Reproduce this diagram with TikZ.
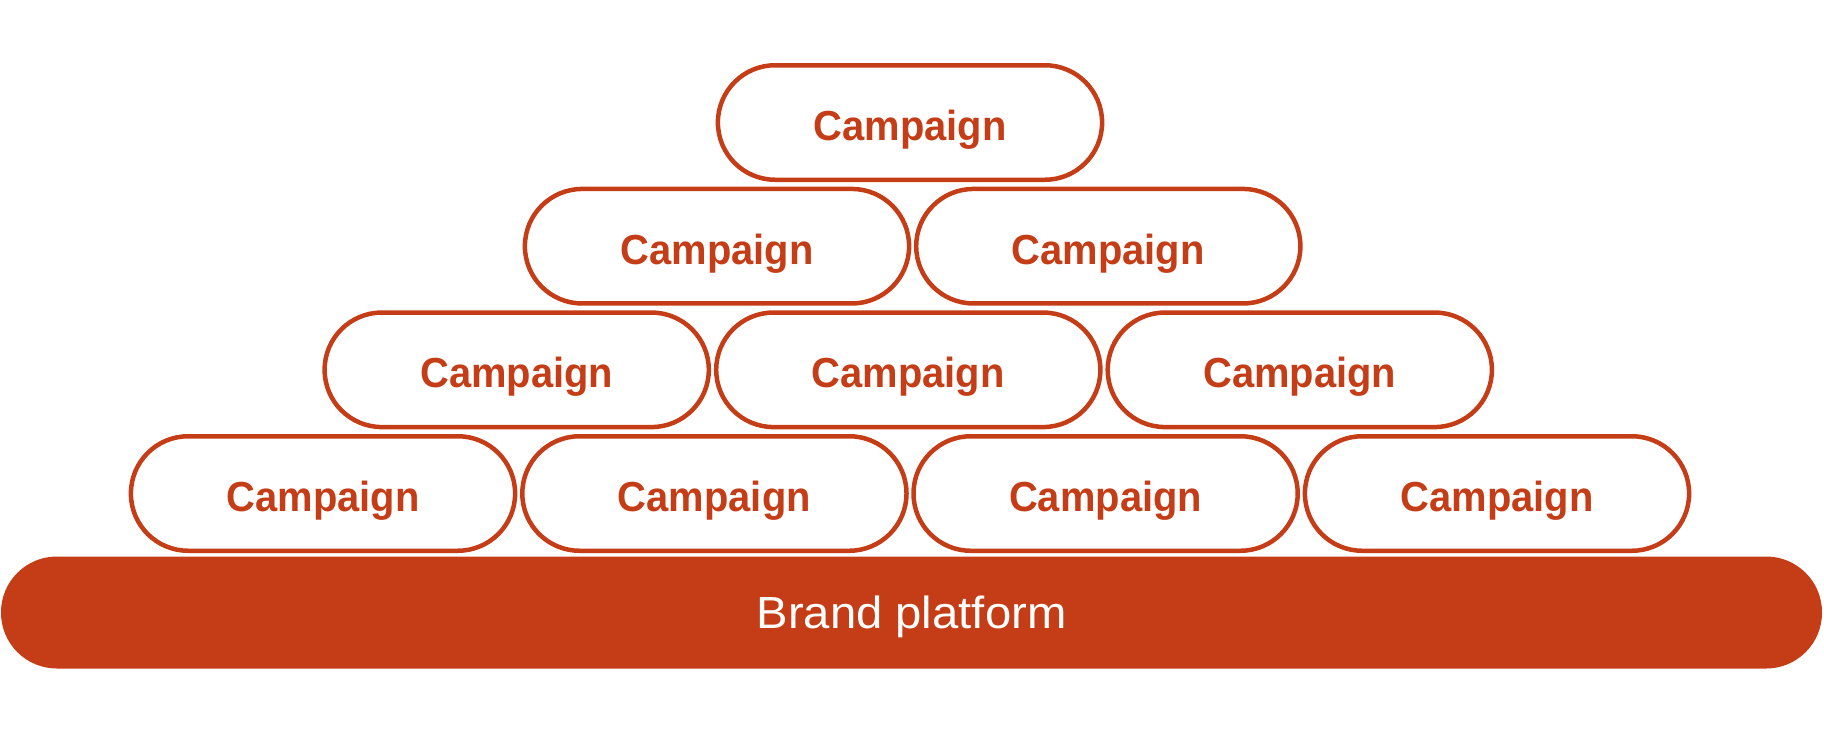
\documentclass[tikz,border=0pt]{standalone}
\usepackage{fontspec}
\setmainfont{Liberation Sans}
\newfontfamily\campfont[FakeStretch=0.95]{Liberation Sans}
\newfontfamily\brandfont[FakeStretch=1.05]{Liberation Sans}
\definecolor{brandred}{RGB}{197,61,22}
\tikzset{
  pill/.style={draw=brandred, line width=2.25pt, fill=white,
    minimum width=192.1pt, minimum height=57.25pt, inner sep=0pt,
    rounded corners=28.6pt, text=brandred,
    font=\campfont\bfseries\fontsize{21pt}{21pt}\selectfont,
    text height=18pt, text depth=0pt},
  platform/.style={fill=brandred, draw=none,
    minimum width=910.5pt, minimum height=56pt, inner sep=0pt,
    rounded corners=27.9pt, text=white,
    font=\brandfont\fontsize{22.5pt}{22.5pt}\selectfont,
    text height=15.8pt, text depth=0pt}
}
\begin{document}
\begin{tikzpicture}[x=0.5pt, y=-0.5pt]
  \useasboundingbox (0,0) rectangle (1824,740);
  \node[platform] (bar) at (911.5,612.5) {Brand platform};
  % row 4
  \node[pill] (c41) at (323,493.5) {Campaign};
  \node[pill] (c42) at (714.4,493.5) {Campaign};
  \node[pill] (c43) at (1105.6,493.5) {Campaign};
  \node[pill] (c44) at (1497,493.5) {Campaign};
  % row 3
  \node[pill] (c31) at (516.7,369.8) {Campaign};
  \node[pill] (c32) at (908.3,369.8) {Campaign};
  \node[pill] (c33) at (1299.8,369.8) {Campaign};
  % row 2
  \node[pill] (c21) at (717,246.2) {Campaign};
  \node[pill] (c22) at (1108.3,246.2) {Campaign};
  % row 1
  \node[pill] (c11) at (910,122.5) {Campaign};
\end{tikzpicture}
\end{document}
